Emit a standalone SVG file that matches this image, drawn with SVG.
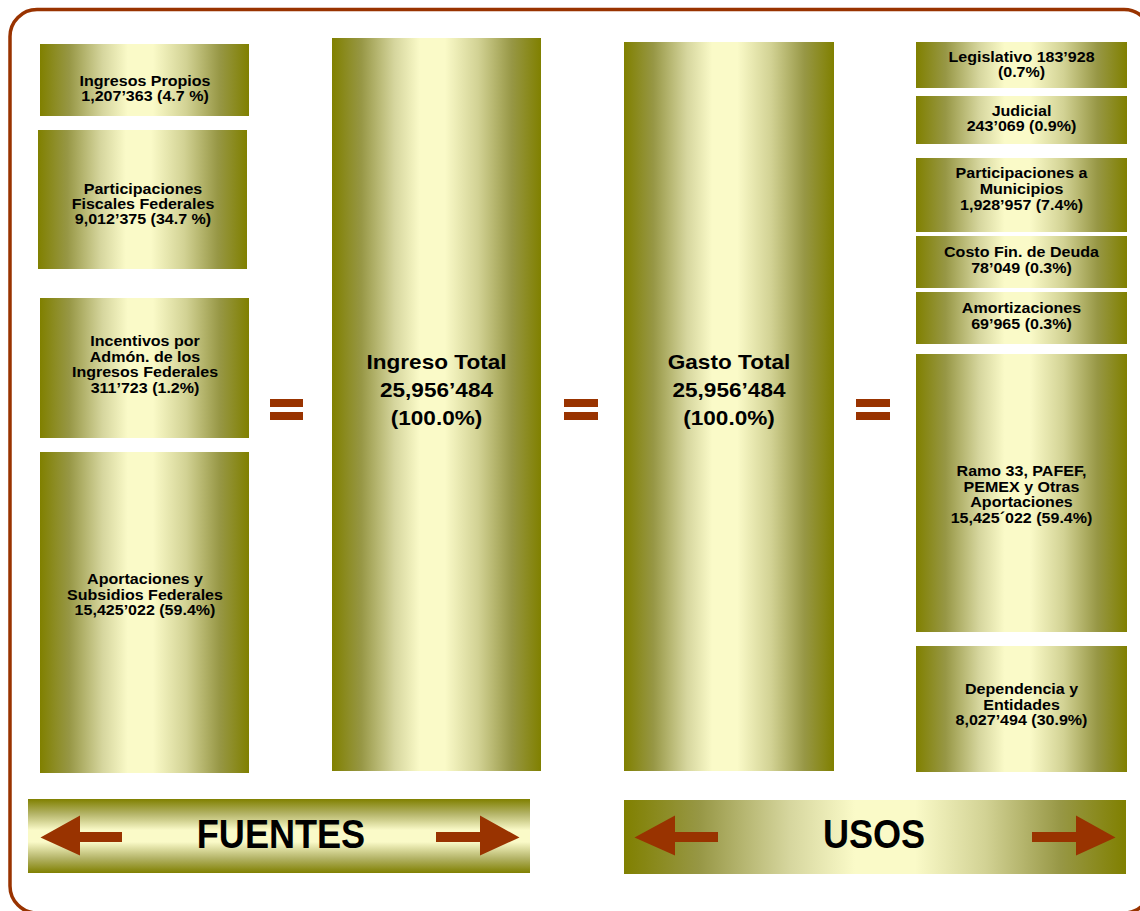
<svg xmlns="http://www.w3.org/2000/svg" width="1140" height="911" viewBox="0 0 1140 911">
<defs>
<linearGradient id="gh" x1="0" y1="0" x2="1" y2="0">
<stop offset="0" stop-color="#808000"/>
<stop offset="0.14" stop-color="#979745"/>
<stop offset="0.3" stop-color="#d6d69e"/>
<stop offset="0.42" stop-color="#fafac8"/>
<stop offset="0.54" stop-color="#fafac8"/>
<stop offset="0.7" stop-color="#d2d294"/>
<stop offset="0.86" stop-color="#979745"/>
<stop offset="1" stop-color="#808000"/>
</linearGradient>
<linearGradient id="gu" x1="0" y1="0" x2="1" y2="0">
<stop offset="0" stop-color="#808000"/>
<stop offset="0.15" stop-color="#979745"/>
<stop offset="0.33" stop-color="#d6d69e"/>
<stop offset="0.46" stop-color="#fafac8"/>
<stop offset="0.58" stop-color="#fafac8"/>
<stop offset="0.72" stop-color="#d2d294"/>
<stop offset="0.87" stop-color="#979745"/>
<stop offset="1" stop-color="#808000"/>
</linearGradient>
<linearGradient id="gv" x1="0" y1="0" x2="0" y2="1">
<stop offset="0" stop-color="#808000"/>
<stop offset="0.2" stop-color="#b4b468"/>
<stop offset="0.42" stop-color="#fafac8"/>
<stop offset="0.58" stop-color="#fafac8"/>
<stop offset="0.8" stop-color="#b4b468"/>
<stop offset="1" stop-color="#808000"/>
</linearGradient>
<style>
.box{fill:url(#gh);}
.t{font-family:"Liberation Sans",Arial,sans-serif;font-weight:bold;fill:#000;text-anchor:middle;}
.s{font-size:15px;}
.b{font-size:20px;}
.h{font-size:41px;}
.eq{fill:#993300;}
.arr{fill:#993300;}
</style>
</defs>
<rect x="0" y="0" width="1140" height="911" fill="#fff"/>
<rect x="10" y="9.5" width="1141" height="903.5" rx="27" ry="27" fill="none" stroke="#993300" stroke-width="3.5"/>

<g id="ingresos-propios">
<rect class="box" x="40" y="44" width="209" height="72"/>
<text class="t s" transform="translate(145,0) scale(1.07,1)"><tspan x="0" y="86">Ingresos Propios</tspan><tspan x="0" y="101.5">1,207’363 (4.7 %)</tspan></text>
</g>
<g id="participaciones-fiscales">
<rect class="box" x="38" y="130" width="209" height="139"/>
<text class="t s" transform="translate(143,0) scale(1.07,1)"><tspan x="0" y="194.5">Participaciones</tspan><tspan x="0" y="209.5">Fiscales Federales</tspan><tspan x="0" y="224.5">9,012’375 (34.7 %)</tspan></text>
</g>
<g id="incentivos">
<rect class="box" x="40" y="298" width="209" height="140"/>
<text class="t s" transform="translate(145,0) scale(1.07,1)"><tspan x="0" y="346">Incentivos por</tspan><tspan x="0" y="362">Admón. de los</tspan><tspan x="0" y="377.5">Ingresos Federales</tspan><tspan x="0" y="393.5">311’723 (1.2%)</tspan></text>
</g>
<g id="aportaciones-subsidios">
<rect class="box" x="40" y="452" width="209" height="321"/>
<text class="t s" transform="translate(145,0) scale(1.07,1)"><tspan x="0" y="584">Aportaciones y</tspan><tspan x="0" y="600">Subsidios Federales</tspan><tspan x="0" y="615.5">15,425’022 (59.4%)</tspan></text>
</g>

<g id="ingreso-total">
<rect class="box" x="332" y="38" width="209" height="733"/>
<text class="t b" transform="translate(436.5,0) scale(1.13,1)"><tspan x="0" y="369">Ingreso Total</tspan><tspan x="0" y="397.5">25,956’484</tspan><tspan x="0" y="425">(100.0%)</tspan></text>
</g>
<g id="gasto-total">
<rect class="box" x="624" y="42" width="210" height="729"/>
<text class="t b" transform="translate(729,0) scale(1.13,1)"><tspan x="0" y="369">Gasto Total</tspan><tspan x="0" y="397.5">25,956’484</tspan><tspan x="0" y="425">(100.0%)</tspan></text>
</g>

<g id="legislativo">
<rect class="box" x="916" y="42" width="211" height="46"/>
<text class="t s" transform="translate(1021.5,0) scale(1.07,1)"><tspan x="0" y="62">Legislativo 183’928</tspan><tspan x="0" y="77.5">(0.7%)</tspan></text>
</g>
<g id="judicial">
<rect class="box" x="916" y="96" width="211" height="48"/>
<text class="t s" transform="translate(1021.5,0) scale(1.07,1)"><tspan x="0" y="116">Judicial</tspan><tspan x="0" y="131.5">243’069 (0.9%)</tspan></text>
</g>
<g id="participaciones-municipios">
<rect class="box" x="916" y="158" width="211" height="74"/>
<text class="t s" transform="translate(1021.5,0) scale(1.07,1)"><tspan x="0" y="178">Participaciones a</tspan><tspan x="0" y="194">Municipios</tspan><tspan x="0" y="210">1,928’957 (7.4%)</tspan></text>
</g>
<g id="costo-deuda">
<rect class="box" x="916" y="236" width="211" height="52"/>
<text class="t s" transform="translate(1021.5,0) scale(1.07,1)"><tspan x="0" y="257.5">Costo Fin. de Deuda</tspan><tspan x="0" y="273.5">78’049 (0.3%)</tspan></text>
</g>
<g id="amortizaciones">
<rect class="box" x="916" y="292" width="211" height="52"/>
<text class="t s" transform="translate(1021.5,0) scale(1.07,1)"><tspan x="0" y="313.5">Amortizaciones</tspan><tspan x="0" y="329.5">69’965 (0.3%)</tspan></text>
</g>
<g id="ramo-33">
<rect class="box" x="916" y="354" width="211" height="278"/>
<text class="t s" transform="translate(1021.5,0) scale(1.07,1)"><tspan x="0" y="476">Ramo 33, PAFEF,</tspan><tspan x="0" y="492">PEMEX y Otras</tspan><tspan x="0" y="507.5">Aportaciones</tspan><tspan x="0" y="523.5">15,425´022 (59.4%)</tspan></text>
</g>
<g id="dependencias">
<rect class="box" x="916" y="646" width="211" height="126"/>
<text class="t s" transform="translate(1021.5,0) scale(1.07,1)"><tspan x="0" y="694">Dependencia y</tspan><tspan x="0" y="710">Entidades</tspan><tspan x="0" y="725.5">8,027’494 (30.9%)</tspan></text>
</g>

<g id="connectors">
<rect class="eq" x="270" y="399" width="33" height="8"/>
<rect class="eq" x="270" y="412" width="33" height="8"/>
<rect class="eq" x="564" y="399" width="34" height="8"/>
<rect class="eq" x="564" y="412" width="34" height="8"/>
<rect class="eq" x="856" y="399" width="34" height="8"/>
<rect class="eq" x="856" y="412" width="34" height="8"/>
</g>

<g id="fuentes">
<rect x="28" y="799" width="502" height="74" fill="url(#gv)"/>
<polygon class="arr" points="40.5,837.5 80,815.5 80,832 122,832 122,842 80,842 80,855.5"/>
<polygon class="arr" points="519.5,837.5 480,815.5 480,832 436,832 436,842 480,842 480,855.5"/>
<text class="t h" transform="translate(281,0) scale(0.88,1)" x="0" y="848">FUENTES</text>
</g>
<g id="usos">
<rect x="624" y="800" width="502" height="74" fill="url(#gu)"/>
<polygon class="arr" points="634.5,837.5 675,815.5 675,832 718,832 718,842 675,842 675,855.5"/>
<polygon class="arr" points="1115.5,837.5 1076,815.5 1076,832 1032,832 1032,842 1076,842 1076,855.5"/>
<text class="t h" transform="translate(874,0) scale(0.88,1)" x="0" y="848">USOS</text>
</g>
</svg>
